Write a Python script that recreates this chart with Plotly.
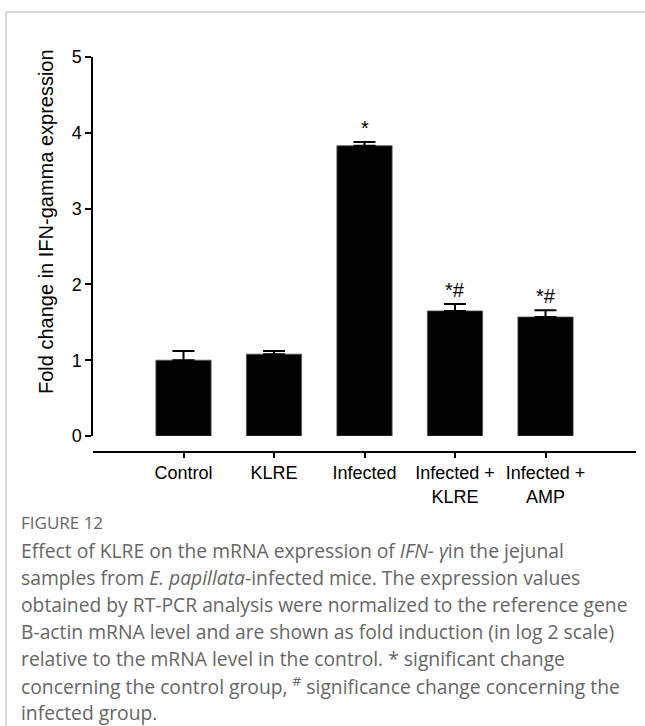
import plotly.graph_objects as go

# Group labels, means and upper error (SEM) for IFN-gamma fold change
groups = ["Control", "KLRE", "Infected", "Infected +<br>KLRE", "Infected +<br>AMP"]
fold_change = [1.00, 1.08, 3.83, 1.65, 1.57]
sem = [0.12, 0.04, 0.05, 0.09, 0.09]
significance = ["", "", "*", "*#", "*#"]

y_ticks = [0, 1, 2, 3, 4, 5]

caption_title = "FIGURE 12"
caption_lines = [
    "Effect of KLRE on the mRNA expression of <i>IFN- γ</i>in the jejunal",
    "samples from <i>E. papillata</i>-infected mice. The expression values",
    "obtained by RT-PCR analysis were normalized to the reference gene",
    "B-actin mRNA level and are shown as fold induction (in log 2 scale)",
    "relative to the mRNA level in the control. * significant change",
    "concerning the control group, <sup>#</sup> significance change concerning the",
    "infected group.",
]

W, H = 645, 726
L, R, T, B = 93, 636, 57, 452   # plot area in pixels
ZERO_PX = 436                   # pixel row of y = 0

def px_x(px):
    return (px - L) / (R - L)

def px_y(py):
    return (B - py) / (B - T)

x_idx = list(range(len(groups)))
AXFONT = "Liberation Sans, Arial"

fig = go.Figure()
fig.add_trace(go.Bar(
    x=x_idx,
    y=fold_change,
    width=0.61,
    marker=dict(color="black", line=dict(color="#555555", width=0.8)),
    error_y=dict(type="data", symmetric=False, array=sem,
                 arrayminus=[0] * len(sem),
                 color="black", thickness=2, width=11),
    showlegend=False,
))

# significance markers above each error bar
for i, (v, e, s) in enumerate(zip(fold_change, sem, significance)):
    if s:
        fig.add_annotation(x=i, y=v + e, text=s, showarrow=False,
                           yanchor="bottom", yshift=1,
                           font=dict(family=AXFONT, size=20, color="black"))

# y axis title
fig.add_annotation(xref="paper", yref="paper", x=px_x(46), y=px_y(222),
                   text="Fold change in IFN-gamma expression", textangle=-90,
                   showarrow=False, xanchor="center", yanchor="middle",
                   font=dict(family=AXFONT, size=20, color="black"))

# caption
fig.add_annotation(xref="paper", yref="paper", x=px_x(19), y=px_y(522),
                   text=caption_title, showarrow=False, xanchor="left", yanchor="middle",
                   font=dict(family="Open Sans", size=17, color="#666666"))
for k, line in enumerate(caption_lines):
    fig.add_annotation(xref="paper", yref="paper", x=px_x(19), y=px_y(550 + 27.1 * k),
                       text=line, showarrow=False, xanchor="left", yanchor="middle",
                       font=dict(family="Open Sans", size=19.3, color="#666666"))

# card border (top and left edges)
fig.add_shape(type="line", xref="paper", yref="paper",
              x0=px_x(6), x1=px_x(645), y0=px_y(12), y1=px_y(12),
              line=dict(color="#cccccc", width=1.5))
fig.add_shape(type="line", xref="paper", yref="paper",
              x0=px_x(6), x1=px_x(6), y0=px_y(12), y1=px_y(726),
              line=dict(color="#cccccc", width=1.5))

d0 = (B - ZERO_PX) / (B - T)
fig.update_layout(
    width=W, height=H,
    margin=dict(l=L, r=W - R, t=T, b=H - B, pad=0),
    paper_bgcolor="white", plot_bgcolor="white",
    font=dict(family=AXFONT, size=18, color="black"),
    xaxis=dict(
        range=[-1, 5], tickvals=x_idx, ticktext=groups,
        showline=True, linecolor="black", linewidth=1.5,
        ticks="outside", ticklen=5, tickwidth=1.5, tickcolor="black",
        showgrid=False, zeroline=False, anchor="free", position=0,
        tickfont=dict(size=18),
    ),
    yaxis=dict(
        range=[0, 5], domain=[d0, 1], tickvals=y_ticks,
        showline=True, linecolor="black", linewidth=1.5,
        ticks="outside", ticklen=6, tickwidth=1.5, tickcolor="black",
        showgrid=False, zeroline=False,
        tickfont=dict(size=18),
    ),
)

fig.write_html("out.html")
